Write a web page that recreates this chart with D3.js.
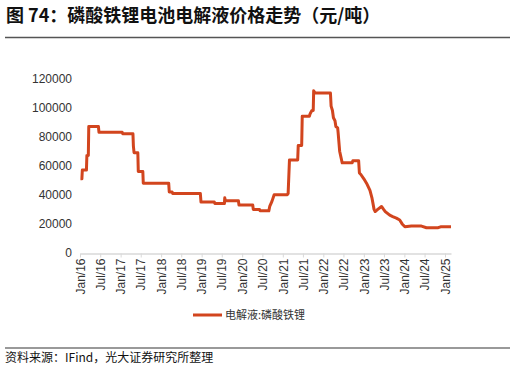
<!DOCTYPE html>
<html>
<head>
<meta charset="utf-8">
<script src="https://cdn.jsdelivr.net/npm/d3@7"></script>
<style>
  body { margin: 0; background: #fff; }
  svg text { font-family: "Liberation Sans", Arial, "Noto Sans CJK SC", sans-serif; }
  .cjk { font-family: "Noto Sans CJK SC", sans-serif; }
</style>
</head>
<body>
<svg id="chart" width="515" height="369"></svg>
<script>
// 电解液:磷酸铁锂 价格（元/吨）
const dates = [
  "2016-01-05","2016-01-18","2016-01-22","2016-02-28","2016-03-03","2016-03-16","2016-03-20",
  "2016-06-15","2016-06-20","2017-01-15","2017-01-20","2017-04-22","2017-04-26","2017-05-02",
  "2017-06-05","2017-06-09","2017-07-20","2017-07-24","2018-03-10","2018-03-15","2018-04-10",
  "2018-04-15","2018-12-20","2018-12-26","2019-04-25","2019-04-30","2019-07-25","2019-07-28",
  "2019-08-02","2019-11-28","2019-12-03","2020-04-05","2020-04-10","2020-06-05","2020-06-10",
  "2020-08-28","2020-09-05","2020-09-25","2020-10-15","2021-02-10","2021-02-18","2021-03-02",
  "2021-05-15","2021-05-20","2021-06-20","2021-06-25","2021-08-28","2021-09-05","2021-09-20",
  "2021-10-02","2021-10-06","2021-10-20","2022-03-06","2022-03-12","2022-03-24","2022-04-02",
  "2022-04-16","2022-04-24","2022-05-10","2022-05-14","2022-05-28","2022-06-20","2022-09-18",
  "2022-09-24","2022-11-15","2022-11-22","2022-12-05","2023-01-01","2023-01-25","2023-02-25",
  "2023-03-16","2023-04-03","2023-04-13","2023-05-06","2023-06-09","2023-06-28","2023-07-13",
  "2023-08-22","2023-09-18","2023-10-21","2023-11-20","2023-12-12","2024-01-06","2024-03-04",
  "2024-06-03","2024-07-18","2024-11-01","2024-11-22","2025-02-24"
];
const prices = [
  51000,51000,57000,57000,67000,67000,87000,
  87000,83000,83000,82000,82000,73500,69000,
  69000,56000,56000,48000,48000,42000,42000,
  41000,41000,35000,35000,34000,34000,38000,
  36000,36000,33000,33000,30000,30000,29000,
  29000,32000,35500,40000,40000,41000,64000,
  64000,74000,74000,94000,94000,96000,98000,
  98000,111500,110000,110000,101000,98000,93000,
  91000,87000,86000,83000,70000,62000,62000,
  63500,63500,55000,54000,51000,48000,43000,
  37500,30000,28500,30000,32000,30000,28500,
  26000,25000,24000,22700,20000,18000,18500,
  18500,17400,17400,18000,18000
];
const yTicks = [0, 20000, 40000, 60000, 80000, 100000, 120000];
const seriesName = "电解液:磷酸铁锂";
const titleText = "图 74：磷酸铁锂电池电解液价格走势（元/吨）";
const sourceText = "资料来源：IFind，光大证券研究所整理";

const parse = d3.timeParse("%Y-%m-%d");
const data = dates.map((d, i) => ({ date: parse(d), value: prices[i] }));

const svg = d3.select("#chart");
const lineColor = "#D2451E";

// 标题
svg.append("text")
  .attr("class", "cjk")
  .attr("x", 6).attr("y", 22)
  .attr("font-size", 18).attr("font-weight", "bold")
  .attr("fill", "#111")
  .text(titleText);

svg.append("line")
  .attr("x1", 5).attr("x2", 510).attr("y1", 37.5).attr("y2", 37.5)
  .attr("stroke", "#555").attr("stroke-width", 1.5);

// x 轴: Jan/16 -> 80, Jan/25 -> 445
const t0 = new Date(2016, 0, 1), t1 = new Date(2025, 0, 1);
const lastDate = data[data.length - 1].date;
const pxPerMs = (445 - 80) / (t1 - t0);
const x = d3.scaleTime()
  .domain([t0, lastDate])
  .range([80, 80 + (lastDate - t0) * pxPerMs]);

const y = d3.scaleLinear().domain([0, 120000]).range([253, 78.5]);

const xTicks = d3.range(0, 19).map(i => new Date(2016, i * 6, 1));
const fmt = d3.timeFormat("%b/%y");

const xAxis = svg.append("g")
  .attr("transform", "translate(0,253.5)")
  .call(d3.axisBottom(x).tickValues(xTicks).tickFormat(fmt).tickSize(4).tickSizeOuter(0));
xAxis.select(".domain").attr("stroke", "#d9d9d9").attr("stroke-width", 1.5);
xAxis.selectAll(".tick line").attr("stroke", "#d9d9d9");
xAxis.selectAll(".tick text")
  .attr("font-size", 12)
  .attr("fill", "#333")
  .attr("transform", "rotate(-90)")
  .attr("text-anchor", "end")
  .attr("x", -5).attr("y", 0).attr("dy", "0.35em");

const yAxis = svg.append("g")
  .attr("transform", "translate(80,0)")
  .call(d3.axisLeft(y).tickValues(yTicks).tickFormat(d3.format("d")).tickSize(0).tickPadding(8));
yAxis.select(".domain").remove();
yAxis.selectAll(".tick text").attr("font-size", 12).attr("fill", "#333");

// 折线
const line = d3.line()
  .x(d => x(d.date))
  .y(d => y(d.value));

svg.append("path")
  .datum(data)
  .attr("d", line)
  .attr("fill", "none")
  .attr("stroke", lineColor)
  .attr("stroke-width", 3)
  .attr("stroke-linejoin", "round");

// 图例
svg.append("line")
  .attr("x1", 193).attr("x2", 222).attr("y1", 315).attr("y2", 315)
  .attr("stroke", lineColor).attr("stroke-width", 3);
svg.append("text")
  .attr("class", "cjk")
  .attr("x", 225).attr("y", 319)
  .attr("font-size", 11).attr("fill", "#333")
  .text(seriesName);

// 资料来源
svg.append("line")
  .attr("x1", 5).attr("x2", 510).attr("y1", 348).attr("y2", 348)
  .attr("stroke", "#777").attr("stroke-width", 1.5);
svg.append("text")
  .attr("class", "cjk")
  .attr("x", 5).attr("y", 362)
  .attr("font-size", 12).attr("fill", "#111")
  .text(sourceText);
</script>
</body>
</html>
